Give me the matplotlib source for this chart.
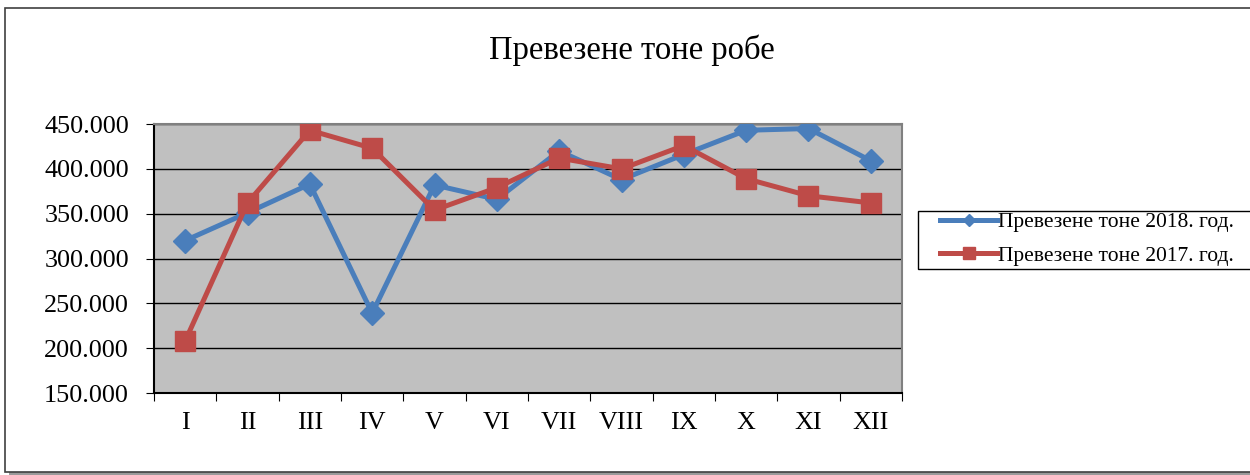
import matplotlib.pyplot as plt
from matplotlib.lines import Line2D
from matplotlib.patches import Rectangle
from matplotlib.ticker import FuncFormatter

meseci = ["I", "II", "III", "IV", "V", "VI", "VII", "VIII", "IX", "X", "XI", "XII"]
tone_2018 = [320, 351, 383, 239, 382, 366, 420, 388, 416, 443, 445, 409]
tone_2017 = [208, 362, 443, 423, 354, 379, 412, 400, 426, 389, 370, 362]

plava = "#4A7EBB"
crvena = "#BE4B48"

plt.rcParams['font.family'] = ['Liberation Serif', 'DejaVu Serif']

fig = plt.figure(figsize=(12.5, 4.75), dpi=100)

# okvir sa senkom
fig.patches.append(Rectangle((0.007, 0.0), 1.0, 0.975, transform=fig.transFigure,
                             facecolor="#9a9a9a", edgecolor="none", zorder=0))
fig.patches.append(Rectangle((0.004, 0.006), 1.0, 0.977, transform=fig.transFigure,
                             facecolor="white", edgecolor="#404040", linewidth=1.2, zorder=1))
# okvir legende
fig.patches.append(Rectangle((0.7344, 0.4337), 0.3, 0.1221, transform=fig.transFigure,
                             facecolor="white", edgecolor="black", linewidth=1.0, zorder=2))

ax = fig.add_axes([0.1232, 0.1726, 0.5984, 0.5663])
ax.set_zorder(3)
ax.set_facecolor("#C0C0C0")
x = list(range(len(meseci)))

ax.plot(x, tone_2018, color=plava, linewidth=3.6, marker='D', markersize=12,
        markeredgecolor=plava, zorder=3)
ax.plot(x, tone_2017, color=crvena, linewidth=3.6, marker='s', markersize=14,
        markeredgecolor=crvena, zorder=4)

ax.set_xlim(-0.5, len(meseci) - 0.5)
ax.set_ylim(150, 450)
ax.set_yticks(range(150, 451, 50))
ax.yaxis.set_major_formatter(FuncFormatter(lambda v, p: f"{int(v)}.000"))
ax.set_xticks([i - 0.5 for i in range(len(meseci) + 1)])
ax.set_xticklabels([])
ax.set_xticks(x, minor=True)
ax.set_xticklabels(meseci, minor=True)
ax.tick_params(axis='x', which='minor', length=0, pad=14, labelsize=18.8)
ax.tick_params(axis='x', which='major', length=5.5, direction='out', color='black')
ax.tick_params(axis='y', length=6, direction='out', labelsize=18.8, pad=12)
ax.grid(axis='y', color='black', linewidth=1.0)
ax.set_axisbelow(True)
ax.spines['left'].set_color('black')
ax.spines['bottom'].set_color('black')
ax.spines['top'].set_color('#808080')
ax.spines['right'].set_color('#808080')
for s in ax.spines.values():
    s.set_linewidth(1.5)

fig.text(0.5056, 0.895, "Превезене тоне робе", ha='center', va='center', fontsize=23.5,
         zorder=3)

handles = [
    Line2D([], [], color=plava, linewidth=3.6, marker='D', markersize=6),
    Line2D([], [], color=crvena, linewidth=3.6, marker='s', markersize=8),
]
leg = fig.legend(handles, ["Превезене тоне 2018. год.", "Превезене тоне 2017. год."],
                 loc='center left', bbox_to_anchor=(0.752, 0.497), fontsize=15.5,
                 frameon=False, handlelength=2.65, handletextpad=0.05,
                 borderpad=0, labelspacing=0.62, borderaxespad=0)
leg.set_zorder(5)

fig.savefig("out.png", dpi=100)
